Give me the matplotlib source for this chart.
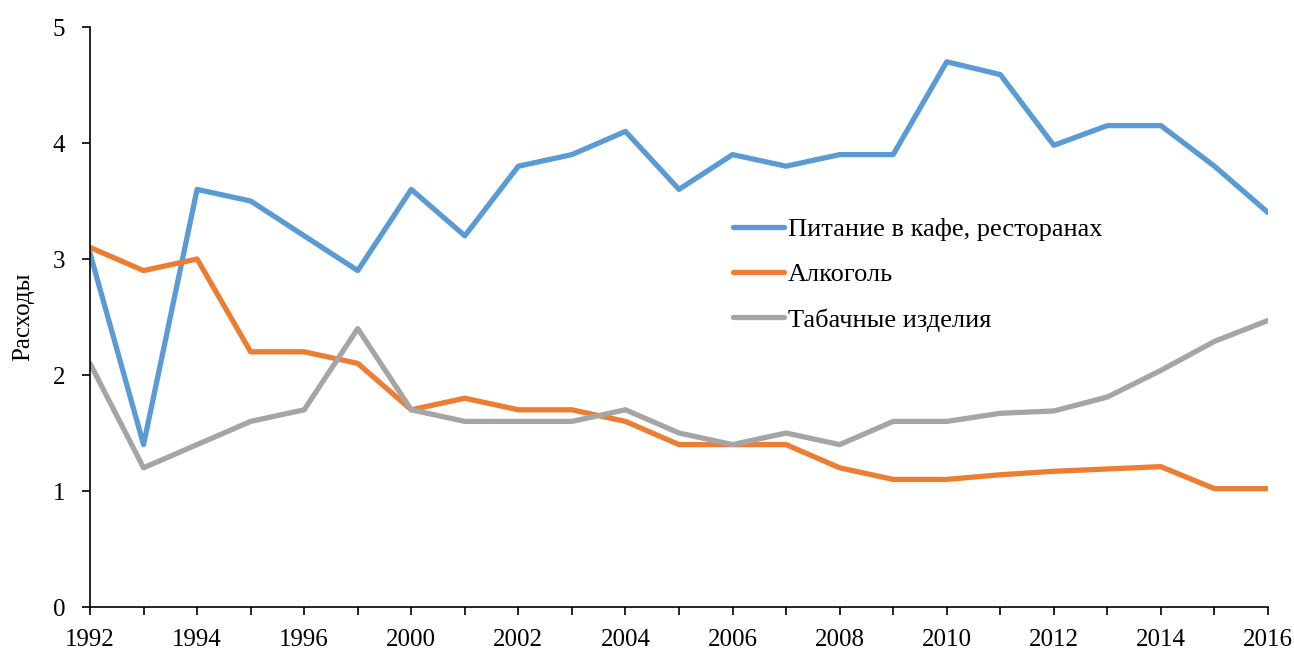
import matplotlib.pyplot as plt

plt.rcParams['font.family'] = ['Liberation Serif', 'DejaVu Serif']

# годы (категории по оси X)
years = ["1992", "1993", "1994", "1995", "1996", "1998", "2000", "2001", "2002", "2003",
         "2004", "2005", "2006", "2007", "2008", "2009", "2010", "2011", "2012", "2013",
         "2014", "2015", "2016"]

# расходы по категориям
cafe = [3.05, 1.4, 3.6, 3.5, 3.2, 2.9, 3.6, 3.2, 3.8, 3.9,
        4.1, 3.6, 3.9, 3.8, 3.9, 3.9, 4.7, 4.59, 3.98, 4.15,
        4.15, 3.8, 3.4]
alcohol = [3.1, 2.9, 3.0, 2.2, 2.2, 2.1, 1.7, 1.8, 1.7, 1.7,
           1.6, 1.4, 1.4, 1.4, 1.2, 1.1, 1.1, 1.14, 1.17, 1.19,
           1.21, 1.02, 1.02]
tobacco = [2.1, 1.2, 1.4, 1.6, 1.7, 2.4, 1.7, 1.6, 1.6, 1.6,
           1.7, 1.5, 1.4, 1.5, 1.4, 1.6, 1.6, 1.67, 1.69, 1.81,
           2.04, 2.29, 2.47]

labels = ["Питание в кафе, ресторанах", "Алкоголь", "Табачные изделия"]

fig = plt.figure(figsize=(12.94, 6.57), dpi=100)
ax = fig.add_axes([90 / 1294, 50 / 657, 1178 / 1294, 580 / 657])

x = list(range(len(years)))
ax.plot(x, cafe, color="#5B9BD5", lw=3.8, solid_capstyle="round", label=labels[0])
ax.plot(x, alcohol, color="#ED7D31", lw=3.8, solid_capstyle="round", label=labels[1])
ax.plot(x, tobacco, color="#A5A5A5", lw=3.8, solid_capstyle="round", label=labels[2])

ax.set_xlim(0, len(years) - 1)
ax.set_ylim(0, 5)
ax.set_xticks(x)
ax.set_xticklabels([y if i % 2 == 0 else "" for i, y in enumerate(years)])
ax.set_yticks([0, 1, 2, 3, 4, 5])

for s in ["top", "right"]:
    ax.spines[s].set_visible(False)
ax.spines["left"].set_linewidth(1.2)
ax.spines["bottom"].set_linewidth(1.2)
ax.tick_params(axis="both", direction="out", length=6, width=1.2, labelsize=18)
ax.tick_params(axis="x", pad=10)
ax.tick_params(axis="y", pad=12)

ax.set_ylabel("Расходы", fontsize=18, labelpad=13)

ax.legend(loc="upper left", bbox_to_anchor=(0.5255, 0.712), frameon=False,
          fontsize=19, handlelength=1.95, labelspacing=0.82, handletextpad=0.15)

fig.savefig("out.png", dpi=100)
